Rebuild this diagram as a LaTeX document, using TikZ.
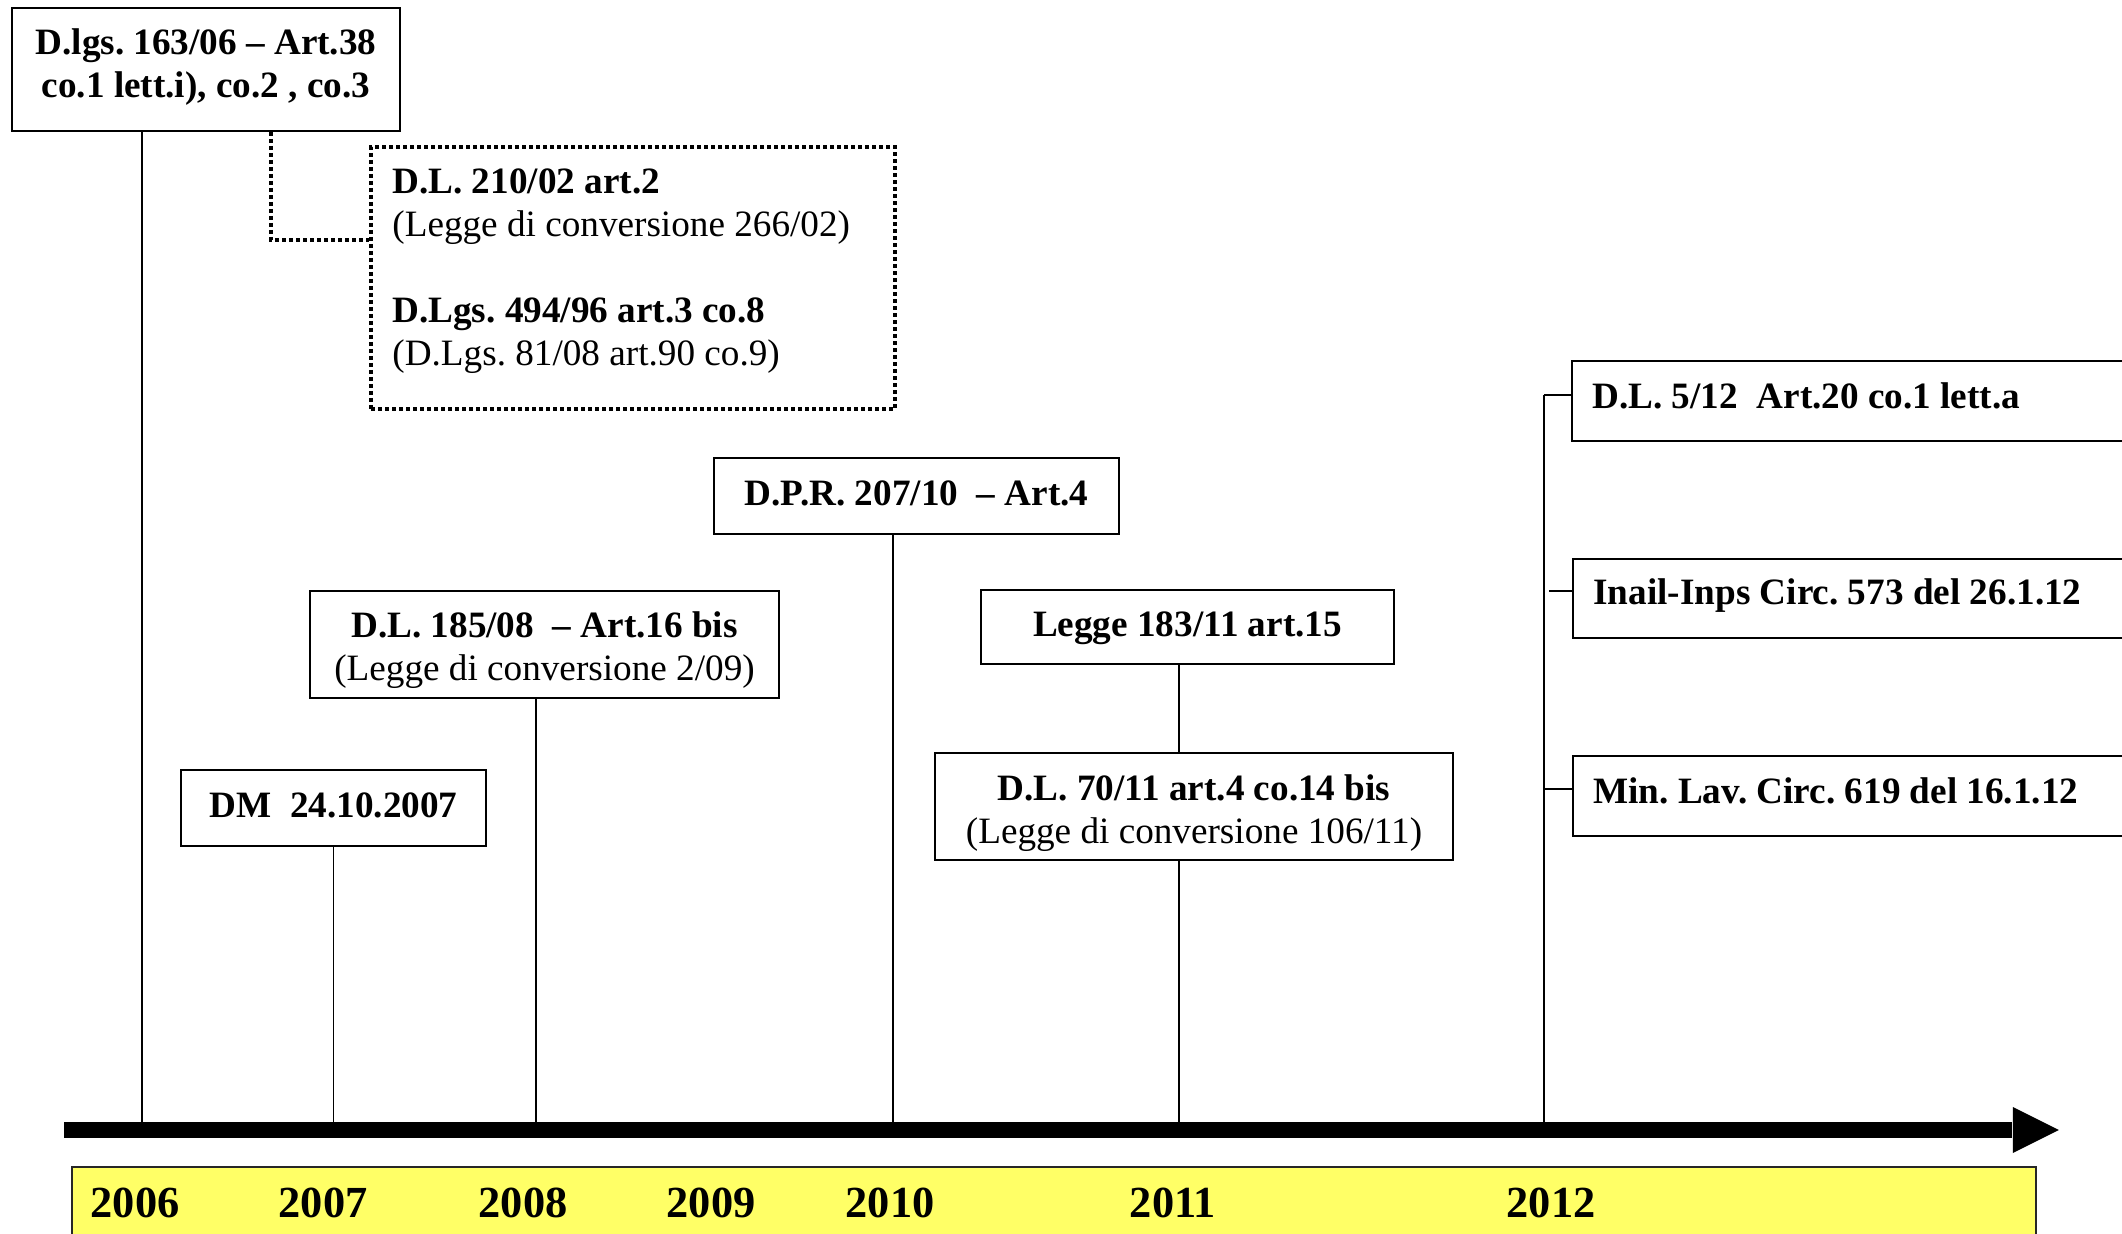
\documentclass[tikz,border=0pt]{standalone}
\usepackage{fontspec}
\setmainfont{Liberation Serif}
\frenchspacing
\newcommand\lawsize{\fontsize{18.6}{21.5}\selectfont}
\newcommand\yearsize{\fontsize{22.2}{26}\selectfont\bfseries}
\definecolor{bandyellow}{HTML}{FFFF66}

\begin{document}
\begin{tikzpicture}[x=0.5pt,y=-0.5pt,
  lawbox/.style={draw, line width=1pt, inner sep=0pt, anchor=north west},
  boxtext/.style={font=\lawsize, align=center, inner sep=0pt},
  sidebox/.style={draw, line width=1pt, inner sep=0pt, minimum width=330pt,
    anchor=north west},
  sidetext/.style={font=\lawsize\bfseries, anchor=west, inner sep=0pt},
  link/.style={line width=0.75pt},
  dotlink/.style={line width=2pt, dash pattern=on 2pt off 1.5pt},
  yearlabel/.style={font=\yearsize, anchor=base, inner sep=0pt},
]
\clip (0,0) rectangle (2122,1234);

% --- law boxes ---
\node[lawbox, minimum width=194pt, minimum height=61.5pt] (b163) at (11,7) {};
\node[boxtext] (b163-t) at ([yshift=1.4pt]b163.center)
  {\textbf{D.lgs. 163/06 – Art.38}\\\textbf{co.1 lett.i), co.2 , co.3}};

\node[draw, dotlink, inner sep=0pt, minimum width=262pt, minimum height=131pt,
  anchor=north west] (d210) at (369,145) {};
\node[font=\lawsize, align=left, anchor=west, inner sep=0pt] (d210-t) at (392,271)
  {\textbf{D.L. 210/02 art.2}\\(Legge di conversione 266/02)\\[21.5pt]
   \textbf{D.Lgs. 494/96 art.3 co.8}\\(D.Lgs. 81/08 art.90 co.9)};

\node[lawbox, minimum width=152.5pt, minimum height=38pt] (dm) at (180,769) {};
\node[boxtext] (dm-t) at ([yshift=1.4pt]dm.center) {\textbf{DM\ \ 24.10.2007}};

\node[lawbox, minimum width=234.5pt, minimum height=53.5pt] (dl185) at (309,590) {};
\node[boxtext] (dl185-t) at ([yshift=-2.7pt]dl185.center)
  {\textbf{D.L. 185/08\ \ – Art.16 bis}\\(Legge di conversione 2/09)};

\node[lawbox, minimum width=202.5pt, minimum height=38pt] (dpr) at (713,457) {};
\node[boxtext] (dpr-t) at ([yshift=1.4pt]dpr.center) {\textbf{D.P.R. 207/10\ \ – Art.4}};

\node[lawbox, minimum width=206.5pt, minimum height=37pt] (l183) at (980,589) {};
\node[boxtext] (l183-t) at ([yshift=-0.5pt]l183.center) {\textbf{Legge 183/11 art.15}};

\node[lawbox, minimum width=259pt, minimum height=53.5pt] (dl70) at (934,752) {};
\node[boxtext] (dl70-t) at ([yshift=-3.4pt]dl70.center)
  {\textbf{D.L. 70/11 art.4 co.14 bis}\\(Legge di conversione 106/11)};

% 2012 boxes run off the right edge
\node[sidebox, minimum height=40pt] (sideA) at (1571,360) {};
\node[sidetext] (sideA-t) at ([xshift=10.5pt,yshift=2.7pt]sideA.west) {D.L. 5/12\ \ Art.20 co.1 lett.a};
\node[sidebox, minimum height=39.5pt] (sideB) at (1572,558) {};
\node[sidetext] (sideB-t) at ([xshift=10.5pt,yshift=1.4pt]sideB.west) {Inail-Inps Circ. 573 del 26.1.12};
\node[sidebox, minimum height=40pt] (sideC) at (1572,755) {};
\node[sidetext] (sideC-t) at ([xshift=10.5pt,yshift=2.7pt]sideC.west) {Min. Lav. Circ. 619 del 16.1.12};

% --- time axis ---
\node[fill, inner sep=0pt, minimum width=974pt, minimum height=8pt, anchor=west]
  (axis) at (64,1130) {};
\fill (axis.east) ++(0,-23) -- ++(46,23) -- ++(-46,23) -- cycle;

\node[draw=black!85, line width=1pt, fill=bandyellow, inner sep=0pt,
  minimum width=982pt, minimum height=60pt, anchor=north west] (band) at (71,1166) {};
\node[yearlabel] (y2006) at (135,1217) {2006};
\node[yearlabel] (y2007) at (323,1217) {2007};
\node[yearlabel] (y2008) at (523,1217) {2008};
\node[yearlabel] (y2009) at (711,1217) {2009};
\node[yearlabel] (y2010) at (890,1217) {2010};
\node[yearlabel] (y2011) at (1173,1217) {2011};
\node[yearlabel] (y2012) at (1551,1217) {2012};

% --- connectors ---
\draw[dotlink] (b163.south -| 271,0) -- (271,240) -- (d210.west |- 0,240);
\draw[link] (b163.south -| 142,0) -- (axis.north -| 142,0);
\draw[link] (dm.south) -- (axis.north -| dm.south);
\draw[link] (dl185.south -| 536,0) -- (axis.north -| 536,0);
\draw[link] (dpr.south -| 893,0) -- (axis.north -| 893,0);
\draw[link] (l183.south -| 1179,0) -- (dl70.north -| 1179,0);
\draw[link] (dl70.south -| 1179,0) -- (axis.north -| 1179,0);

\coordinate (trunk) at (1544,395);
\coordinate (tickB) at (1549,591);
\draw[link] (trunk) -- (trunk |- axis.north);
\draw[link] (trunk) -- (sideA.west |- trunk);
\draw[link] (tickB) -- (sideB.west |- tickB);
\draw[link] (trunk |- 0,789) -- (sideC.west |- 0,789);
\end{tikzpicture}
\end{document}
